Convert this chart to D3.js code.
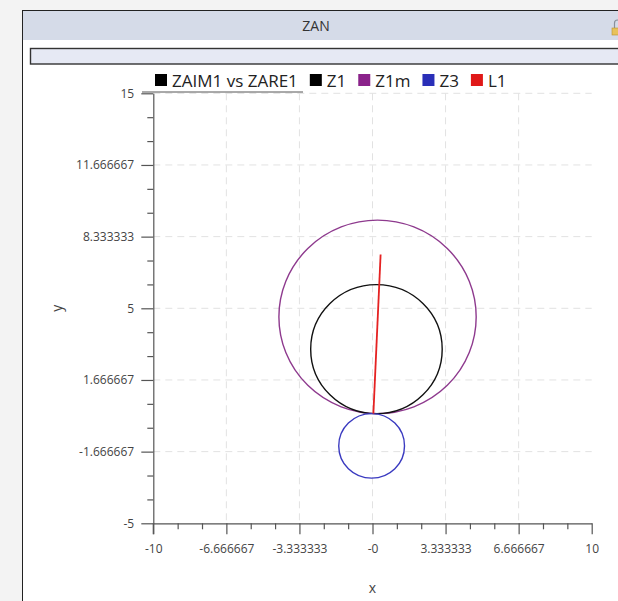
<!DOCTYPE html>
<html>
<head>
<meta charset="utf-8">
<script src="https://cdn.jsdelivr.net/npm/d3@7"></script>
<style>
  html, body { margin: 0; padding: 0; background: #f3f3f3; }
  svg { display: block; font-family: "Open Sans", "Noto Sans", sans-serif; }
</style>
</head>
<body>
<div id="chart"></div>
<script>
// Data
const seriesNames = ["ZAIM1 vs ZARE1", "Z1", "Z1m", "Z3", "L1"];
const seriesColors = ["#000000", "#000000", "#8a228a", "#2a2fb8", "#e01818"];

// circles: center x, center y, radius (data units)
const circleNames = ["Z1m", "Z1", "Z3"];
const circleCX = [0.23, 0.18, -0.04];
const circleCY = [4.6, 3.1, -1.4];
const circleR = [4.5, 3.0, 1.5];
const circleColors = ["#8e3a8e", "#111111", "#3a3ac0"];

// L1 line
const lineX = [0.04, 0.37];
const lineY = [0.1, 7.5];

// axis ticks
const xTickValues = [-10, -6.666667, -3.333333, 0, 3.333333, 6.666667, 10];
const xTickLabels = ["-10", "-6.666667", "-3.333333", "-0", "3.333333", "6.666667", "10"];
const yTickValues = [-5, -1.666667, 1.666667, 5, 8.333333, 11.666667, 15];
const yTickLabels = ["-5", "-1.666667", "1.666667", "5", "8.333333", "11.666667", "15"];

const viewW = 618;
const viewH = 601;
const margin = { top: 93.3, left: 153.3 };
const width = 438.4;
const height = 430;

const svg = d3.select("#chart")
    .append("svg")
    .attr("width", viewW)
    .attr("height", viewH);

// Panel frame
svg.append("rect")
    .attr("x", 22.5).attr("y", 10.5)
    .attr("width", viewW).attr("height", viewH)
    .attr("fill", "#ffffff")
    .attr("stroke", "#222").attr("stroke-width", 1);
svg.append("rect")
    .attr("x", 23).attr("y", 11)
    .attr("width", viewW).attr("height", 29)
    .attr("fill", "#d5dbe8");
svg.append("text")
    .attr("x", 316).attr("y", 31)
    .attr("text-anchor", "middle")
    .style("font-size", "14px")
    .attr("fill", "#333")
    .text("ZAN");

// lock icon (cut off at right edge)
svg.append("path")
    .attr("d", "M614.5,28 V23 a3,3 0 0 1 6,0 V28")
    .attr("fill", "none").attr("stroke", "#8a8f9a").attr("stroke-width", 1.2);
svg.append("rect")
    .attr("x", 612).attr("y", 28).attr("width", 10).attr("height", 7)
    .attr("fill", "#e8c25a").attr("stroke", "#b8922e").attr("stroke-width", 0.6);

// inner bar
svg.append("rect")
    .attr("x", 30.5).attr("y", 48.5)
    .attr("width", viewW).attr("height", 15.5)
    .attr("fill", "#e6e9f4")
    .attr("stroke", "#333").attr("stroke-width", 1.4);

// Scales
const x = d3.scaleLinear().domain([-10, 10]).range([margin.left, margin.left + width]);
const y = d3.scaleLinear().domain([-5, 15]).range([margin.top + height, margin.top]);

// minor ticks: two between each pair of major ticks
const minorTicks = vals => {
    const out = [];
    for (let i = 0; i < vals.length - 1; i++) {
        const step = (vals[i + 1] - vals[i]) / 3;
        out.push(vals[i] + step, vals[i] + 2 * step);
    }
    return out;
};

// Grid
const grid = svg.append("g")
    .attr("stroke", "#e2e2e2")
    .attr("stroke-width", 1)
    .attr("stroke-dasharray", "7,5");
grid.selectAll("line.h")
    .data(yTickValues.slice(1))
    .join("line")
    .attr("class", "h")
    .attr("x1", x(-10)).attr("x2", x(10))
    .attr("y1", d => y(d)).attr("y2", d => y(d));
grid.selectAll("line.v")
    .data(xTickValues.slice(1, -1))
    .join("line")
    .attr("class", "v")
    .attr("x1", d => x(d)).attr("x2", d => x(d))
    .attr("y1", y(15)).attr("y2", y(-5));

// Circles
svg.append("g")
    .selectAll("ellipse")
    .data(circleNames.map((n, i) => ({ n, cx: circleCX[i], cy: circleCY[i], r: circleR[i], c: circleColors[i] })))
    .join("ellipse")
    .attr("cx", d => x(d.cx))
    .attr("cy", d => y(d.cy))
    .attr("rx", d => x(d.cx + d.r) - x(d.cx))
    .attr("ry", d => y(d.cy) - y(d.cy + d.r))
    .attr("fill", "none")
    .attr("stroke", d => d.c)
    .attr("stroke-width", 1.4);

// L1
svg.append("path")
    .datum(lineX.map((v, i) => [v, lineY[i]]))
    .attr("d", d3.line().x(d => x(d[0])).y(d => y(d[1])))
    .attr("fill", "none")
    .attr("stroke", "#e52222")
    .attr("stroke-width", 1.8);

// X axis
const xAxisG = svg.append("g")
    .attr("transform", `translate(0, ${y(-5)})`);
xAxisG.append("g")
    .call(d3.axisBottom(x).tickValues(minorTicks(xTickValues)).tickSize(6).tickFormat(""))
    .call(g => g.select(".domain").remove());
xAxisG.append("g")
    .call(d3.axisBottom(x).tickValues(xTickValues).tickSize(11).tickSizeOuter(0)
        .tickFormat((d, i) => xTickLabels[i]));

// Y axis
const yAxisG = svg.append("g")
    .attr("transform", `translate(${x(-10)}, 0)`);
yAxisG.append("g")
    .call(d3.axisLeft(y).tickValues(minorTicks(yTickValues)).tickSize(6).tickFormat(""))
    .call(g => g.select(".domain").remove());
yAxisG.append("g")
    .call(d3.axisLeft(y).tickValues(yTickValues).tickSize(12).tickSizeOuter(0)
        .tickFormat((d, i) => yTickLabels[i]));

// extend y axis line down to meet -10 tick
svg.append("line")
    .attr("x1", x(-10)).attr("x2", x(-10))
    .attr("y1", y(-5)).attr("y2", y(-5) + 11)
    .attr("stroke", "#555").attr("stroke-width", 1.2);

svg.selectAll(".tick line, .domain")
    .attr("stroke", "#555")
    .attr("stroke-width", 1.2);
svg.selectAll(".tick text")
    .attr("fill", "#444")
    .style("font-size", "12px")
    .style("font-family", "\"Open Sans\", \"Noto Sans\", sans-serif");
xAxisG.selectAll(".tick text").attr("dy", "1.35em");
yAxisG.selectAll(".tick text").attr("dx", "-0.35em");

// Axis labels
svg.append("text")
    .attr("x", x(0)).attr("y", 593)
    .attr("text-anchor", "middle")
    .attr("fill", "#444")
    .style("font-size", "14px")
    .text("x");
svg.append("text")
    .attr("transform", `translate(62, ${y(5)}) rotate(-90)`)
    .attr("text-anchor", "middle")
    .attr("fill", "#444")
    .style("font-size", "14px")
    .text("y");

// Legend
const legend = svg.append("g").attr("transform", "translate(155, 74)");
let lx = 0;
seriesNames.forEach((name, i) => {
    legend.append("rect")
        .attr("x", lx).attr("y", 0)
        .attr("width", 12).attr("height", 12)
        .attr("fill", seriesColors[i]);
    const t = legend.append("text")
        .attr("x", lx + 17).attr("y", 12.5)
        .attr("fill", "#222")
        .style("font-size", "17px")
        .text(name);
    lx += 17 + t.node().getComputedTextLength() + 12;
});
// underline under first legend entry
svg.append("line")
    .attr("x1", 142).attr("x2", 303)
    .attr("y1", 92).attr("y2", 92)
    .attr("stroke", "#555").attr("stroke-width", 1);
</script>
</body>
</html>
